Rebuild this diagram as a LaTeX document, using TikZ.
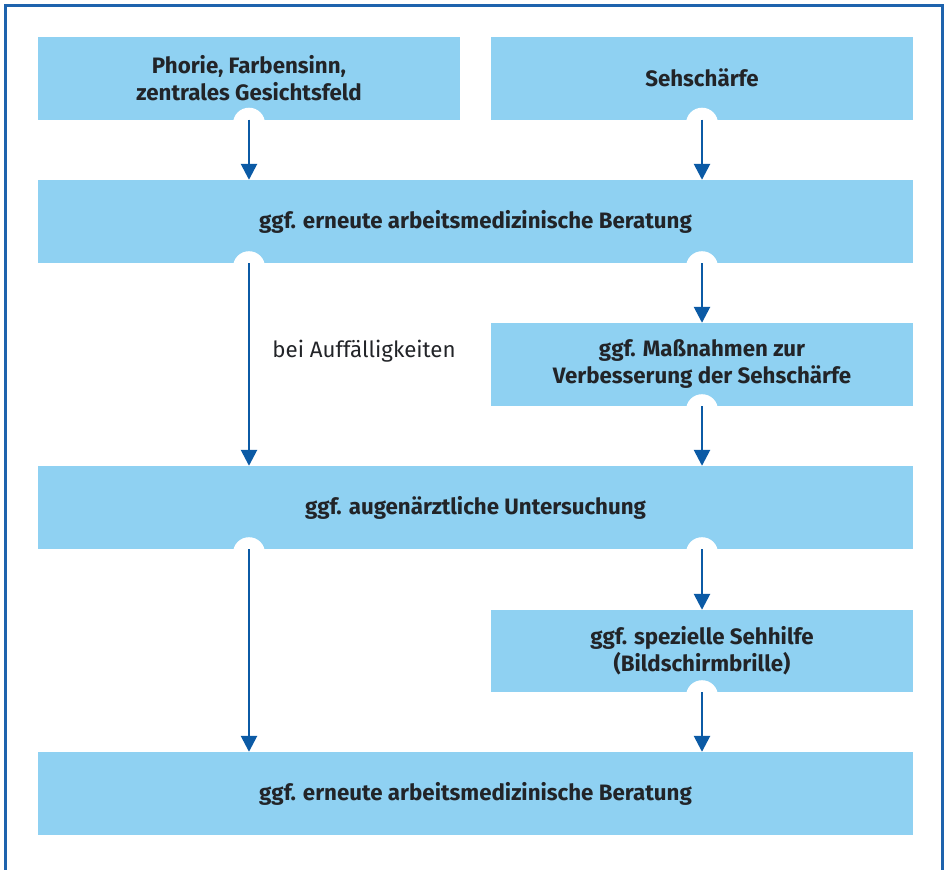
\documentclass[tikz,border=0pt]{standalone}
\usepackage{fontspec}
\setmainfont{Fira Sans}
\usetikzlibrary{arrows.meta}
\definecolor{boxblue}{HTML}{8FD1F2}
\definecolor{arrowblue}{HTML}{0B5AA5}
\definecolor{frameblue}{HTML}{1E63AD}
\definecolor{textgray}{HTML}{222428}

\tikzset{
  stepbox/.style={fill=boxblue, text=textgray, inner sep=0pt, align=center,
    font=\fontsize{22.3}{27}\selectfont\bfseries},
  halfbox/.style={stepbox, minimum width=422pt, minimum height=83pt},
  fullbox/.style={stepbox, minimum width=875pt, minimum height=83pt},
  flow/.style={draw=arrowblue, line width=2.6pt, -{Triangle[length=16pt,width=16pt]}}
}

\begin{document}
\begin{tikzpicture}[x=1pt,y=-1pt]
    \useasboundingbox (0,0) rectangle (945,870);
    % frame
    \draw[frameblue, line width=3pt] (5,880) -- (5,5) -- (942,5) -- (942,880);

    % boxes
    \node[halfbox] (phorie) at (249,78) {Phorie, Farbensinn,\\zentrales Gesichtsfeld};
    \node[halfbox] (sehschaerfe) at (702,78) {Sehschärfe};
    \node[fullbox] (beratung1) at (475.5,221.5) {ggf. erneute arbeitsmedizinische Beratung};
    \node[halfbox] (massnahmen) at (702,364.5) {ggf. Maßnahmen zur\\Verbesserung der Sehschärfe};
    \node[fullbox] (augenarzt) at (475.5,507.5) {ggf. augenärztliche Untersuchung};
    \node[halfbox, minimum height=82pt] (sehhilfe) at (702,651) {ggf. spezielle Sehhilfe\\(Bildschirmbrille)};
    \node[fullbox] (beratung2) at (475.5,793.5) {ggf. erneute arbeitsmedizinische Beratung};

    \node[text=textgray, font=\fontsize{22.3}{27}\selectfont] (hinweis) at (364,351) {bei Auffälligkeiten};

    % arrow starts
    \coordinate (s1) at (phorie.south);
    \coordinate (s2) at (sehschaerfe.south);
    \coordinate (s3) at (beratung1.south -| phorie.south);
    \coordinate (s4) at (beratung1.south -| sehschaerfe.south);
    \coordinate (s5) at (massnahmen.south);
    \coordinate (s6) at (augenarzt.south -| phorie.south);
    \coordinate (s7) at (augenarzt.south -| massnahmen.south);
    \coordinate (s8) at (sehhilfe.south);

    % notches
    \foreach \s in {s1,s2,s3,s4,s5,s6,s7,s8}
      \fill[white] ([yshift=-4pt]\s) circle[radius=16pt];

    % arrows
    \foreach \s/\e in {s1/{phorie.south |- beratung1.north}, s2/{sehschaerfe.south |- beratung1.north},
        s3/{phorie.south |- augenarzt.north}, s4/massnahmen.north,
        s5/{massnahmen.south |- augenarzt.north}, s6/{phorie.south |- beratung2.north},
        s7/sehhilfe.north, s8/{sehhilfe.south |- beratung2.north}}
      \draw[flow] (\s) -- (\e);
\end{tikzpicture}
\end{document}
